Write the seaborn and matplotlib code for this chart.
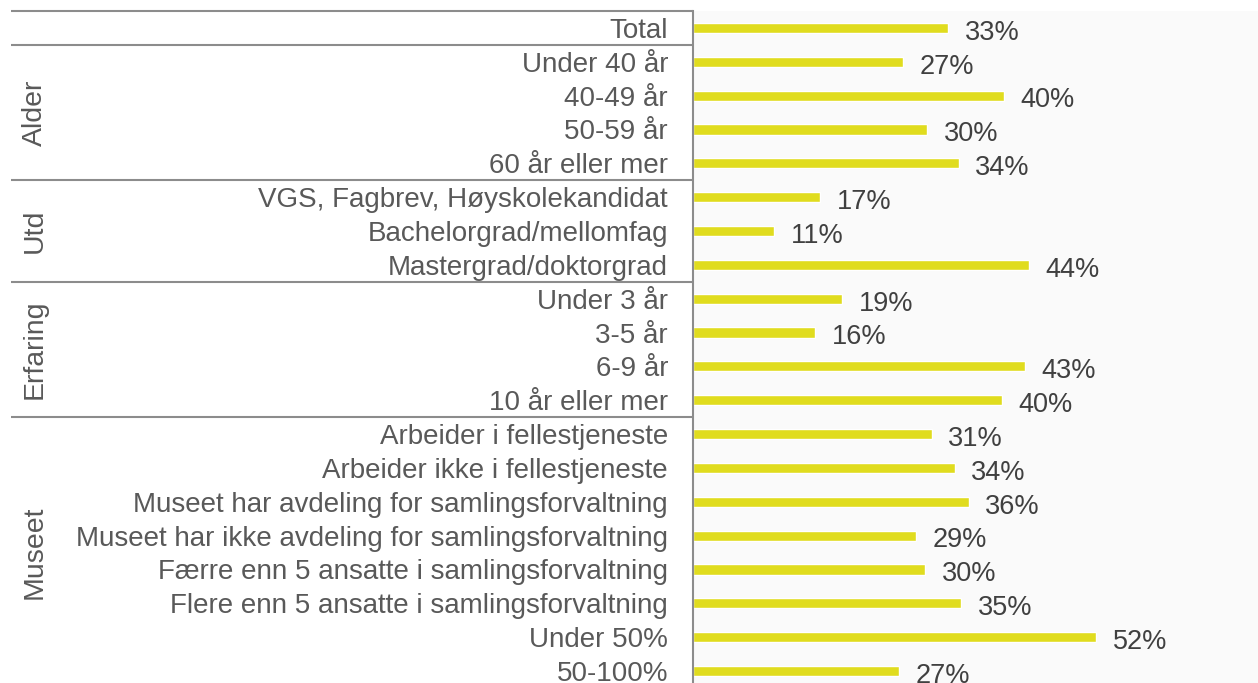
import matplotlib
matplotlib.use("Agg")
import matplotlib.pyplot as plt
import matplotlib.transforms as mtransforms
import seaborn as sns
import pandas as pd

categories = [
    "Total",
    "Under 40 år", "40-49 år", "50-59 år", "60 år eller mer",
    "VGS, Fagbrev, Høyskolekandidat", "Bachelorgrad/mellomfag", "Mastergrad/doktorgrad",
    "Under 3 år", "3-5 år", "6-9 år", "10 år eller mer",
    "Arbeider i fellestjeneste", "Arbeider ikke i fellestjeneste",
    "Museet har avdeling for samlingsforvaltning",
    "Museet har ikke avdeling for samlingsforvaltning",
    "Færre enn 5 ansatte i samlingsforvaltning",
    "Flere enn 5 ansatte i samlingsforvaltning",
    "Under 50%", "50-100%",
]
# bar lengths (estimated, unrounded) and their printed labels
values = [33.1, 27.2, 40.3, 30.3, 34.4, 16.5, 10.5, 43.5, 19.3, 15.8,
          43.0, 40.0, 30.9, 33.9, 35.7, 28.9, 30.1, 34.7, 52.2, 26.7]
labels = [33, 27, 40, 30, 34, 17, 11, 44, 19, 16, 43, 40, 31, 34, 36, 29, 30, 35, 52, 27]
groups = ["Alder", "Utd", "Erfaring", "Museet"]
group_rows = [(1, 4), (5, 7), (8, 11), (12, 19)]

sns.set_theme(style="white")
plt.rcParams["font.family"] = ["Liberation Sans", "DejaVu Sans"]

W, H = 1258, 683
fig = plt.figure(figsize=(W / 100, H / 100), dpi=100)
fig.patch.set_facecolor("white")
ax = fig.add_axes([693 / W, 0, 565 / W, 672 / H])
ax.set_facecolor("#fafafa")

df = pd.DataFrame({"cat": categories, "val": values})
sns.barplot(data=df, x="val", y="cat", orient="h", color="#e0dc1e",
            width=0.3, saturation=1, ax=ax)

ax.set_xlim(0, 73.2)
ax.set_ylim(19.355, -0.5)
ax.set_xlabel("")
ax.set_ylabel("")
ax.set_xticks([])
ax.tick_params(axis="y", length=0, pad=18, labelsize=20, labelcolor="#595959")
for s in ["top", "right", "bottom"]:
    ax.spines[s].set_visible(False)
ax.spines["left"].set_color("#8c8c8c")
ax.spines["left"].set_linewidth(1.5)

for i, (v, lab) in enumerate(zip(values, labels)):
    ax.annotate(f"{lab}%", xy=(v, i), xytext=(12, -3.5), textcoords="offset points",
                va="center", ha="left", fontsize=19.5, color="#404040")

blend = mtransforms.blended_transform_factory(fig.transFigure, ax.transData)
sep_rows = [-0.5, 0.5, 4.5, 7.5, 11.5]
for y in sep_rows:
    ax.plot([11 / W, 693 / W], [y, y], transform=blend, color="#8c8c8c",
            lw=1.5, clip_on=False, solid_capstyle="butt")

for g, (a, b) in zip(groups, group_rows):
    ax.text(35 / W, (a + b) / 2, g, rotation=90, ha="center", va="center",
            fontsize=20.5, color="#595959", transform=blend, clip_on=False)

fig.savefig("out.png", dpi=100)
